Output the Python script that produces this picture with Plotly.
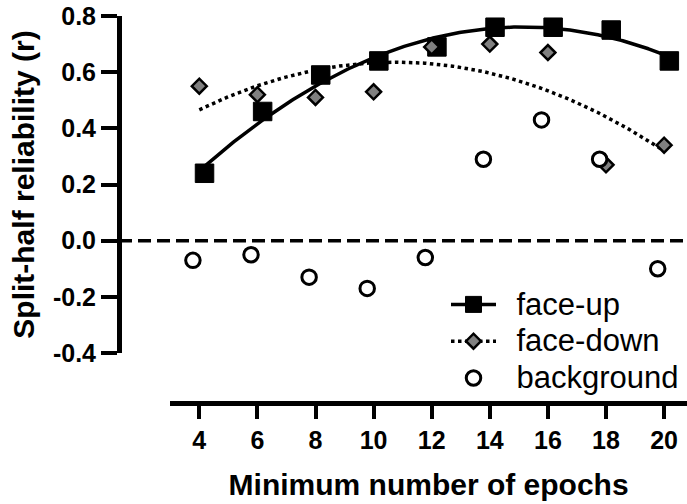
import numpy as np
import plotly.graph_objects as go

# ---- data ----
epochs = [4, 6, 8, 10, 12, 14, 16, 18, 20]
face_up = [0.24, 0.46, 0.59, 0.64, 0.69, 0.76, 0.76, 0.75, 0.64]
face_down = [0.55, 0.52, 0.51, 0.53, 0.69, 0.70, 0.67, 0.27, 0.34]
background = [-0.07, -0.05, -0.13, -0.17, -0.06, 0.29, 0.43, 0.29, -0.10]

x_tick_vals = [4, 6, 8, 10, 12, 14, 16, 18, 20]
y_tick_vals = [-0.4, -0.2, 0.0, 0.2, 0.4, 0.6, 0.8]
y_tick_text = ["-0.4", "-0.2", "0.0", "0.2", "0.4", "0.6", "0.8"]

series_names = ["face-up", "face-down", "background"]

# ---- style / layout ----
FONT = "Arial, 'Liberation Sans', sans-serif"
W, H = 687, 504
ML, MR, MT, MB = 105, 0, 16, 101
plot_w = W - ML - MR
plot_h = H - MT - MB
yaxis_px = 119            # y-axis line position (px)
xaxis_start_px = 170.25   # start of offset x-axis (px)
ytick_bottom_px = 353     # pixel of -0.4
px_per_unit = 29.05
x4_px = 199.3
offsets = {"face-up": 0.18, "face-down": 0.0, "background": -0.22}

x = np.array(epochs, dtype=float)

fig = go.Figure()

# quadratic fits (as in the original figure)
grid = np.linspace(min(epochs), max(epochs), 300)
fu_fit = np.polyval(np.polyfit(x, face_up, 2), grid)
fd_fit = np.polyval(np.polyfit(x, face_down, 2), grid)

fig.add_trace(go.Scatter(x=grid + offsets["face-up"], y=fu_fit, mode="lines",
                         line=dict(color="black", width=3.5), showlegend=False,
                         hoverinfo="skip"))
fig.add_trace(go.Scatter(x=grid + offsets["face-down"], y=fd_fit, mode="lines",
                         line=dict(color="black", width=3.5, dash="dot"),
                         showlegend=False, hoverinfo="skip"))

sq = dict(symbol="square", size=18.5, color="black", line=dict(color="black", width=1))
dm = dict(symbol="diamond", size=11.5, color="#808080", line=dict(color="black", width=2.5))
ci = dict(symbol="circle", size=14.5, color="white", line=dict(color="black", width=3))

fig.add_trace(go.Scatter(x=x + offsets["face-up"], y=face_up, mode="markers",
                         marker=sq, showlegend=False))
fig.add_trace(go.Scatter(x=x + offsets["face-down"], y=face_down, mode="markers",
                         marker=dm, showlegend=False))
fig.add_trace(go.Scatter(x=x + offsets["background"], y=background, mode="markers",
                         marker=ci, showlegend=False))

# legend entries (an en-space pads the gap between symbol and text)
span = '<span style="font-size:31px">\u2002{}</span>'
fig.add_trace(go.Scatter(x=[None], y=[None], mode="lines+markers", name=span.format(series_names[0]),
                         line=dict(color="black", width=3.5), marker=sq))
fig.add_trace(go.Scatter(x=[None], y=[None], mode="lines+markers", name=span.format(series_names[1]),
                         line=dict(color="black", width=3.5, dash="dot"), marker=dm))
fig.add_trace(go.Scatter(x=[None], y=[None], mode="markers", name=span.format(series_names[2]),
                         marker=ci))

ypos = (yaxis_px - ML) / plot_w
xdom0 = (xaxis_start_px - ML) / plot_w
ydom0 = (H - MB - ytick_bottom_px) / plot_h
x_lo = 4 - (x4_px - xaxis_start_px) / px_per_unit
x_hi = x_lo + (W - MR - xaxis_start_px) / px_per_unit

fig.add_shape(type="line", xref="paper", yref="y", x0=ypos, x1=1, y0=0, y1=0,
              line=dict(color="black", width=3.5, dash="13px,6px"))

fig.update_layout(
    width=W, height=H,
    margin=dict(l=ML, r=MR, t=MT, b=MB, autoexpand=False),
    paper_bgcolor="white", plot_bgcolor="white",
    font=dict(family=FONT, color="black"),
    xaxis=dict(domain=[xdom0, 1], range=[x_lo, x_hi], anchor="free", position=0,
               showline=True, linewidth=5, linecolor="black",
               ticks="outside", ticklen=13, tickwidth=4, tickcolor="black",
               tickvals=x_tick_vals, showgrid=False, zeroline=False,
               tickfont=dict(size=25, weight="bold", family=FONT),
               title=dict(text="Minimum number of epochs", standoff=20,
                          font=dict(size=30, weight="bold", family=FONT))),
    yaxis=dict(domain=[ydom0, 1], range=[-0.4, 0.8], anchor="free", position=ypos,
               showline=True, linewidth=5, linecolor="black",
               ticks="outside", ticklen=16, tickwidth=4, tickcolor="black",
               tickvals=y_tick_vals, ticktext=y_tick_text,
               showgrid=False, zeroline=False,
               tickfont=dict(size=25, weight="bold", family=FONT),
               title=dict(text="Split-half reliability (r)", standoff=8,
                          font=dict(size=30, weight="bold", family=FONT))),
    legend=dict(x=(446 - ML) / plot_w, y=(H - MB - 281) / plot_h,
                xanchor="left", yanchor="top", bgcolor="rgba(0,0,0,0)",
                font=dict(size=26, family=FONT), itemwidth=45,
                tracegroupgap=0),
    showlegend=True,
)

fig.write_html("out.html", config={"displayModeBar": False},
               post_script="document.body.style.margin='0';")
